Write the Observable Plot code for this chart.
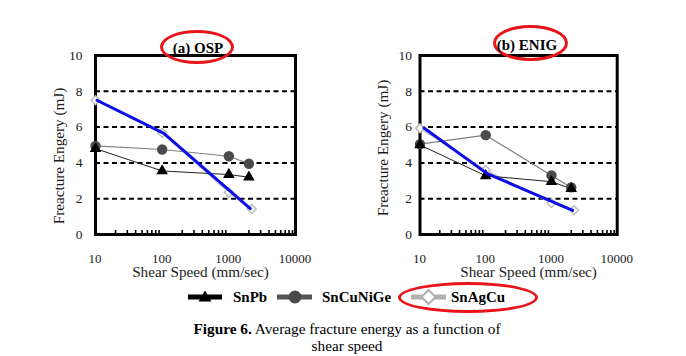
<!DOCTYPE html>
<html>
<head>
<meta charset="utf-8">
<script src="https://cdn.jsdelivr.net/npm/d3@7"></script>
<script src="https://cdn.jsdelivr.net/npm/@observablehq/plot@0.6"></script>
<style>
  html, body { margin: 0; padding: 0; background: #fff; }
  #wrap { position: relative; width: 686px; height: 356px; background: #fff; overflow: hidden;
          font-family: 'Liberation Serif', 'Times New Roman', serif; color: #000; }
  .abs { position: absolute; }
  .ell { position: absolute; box-sizing: border-box; border: 3px solid #e8141a; border-radius: 50%; }
  .ttl { position: absolute; font-weight: bold; font-size: 15px; white-space: nowrap; transform: translate(-50%, -50%); line-height: 1; }
  .leg { position: absolute; font-weight: bold; font-size: 15px; white-space: nowrap; line-height: 1; transform: translateY(-50%); }
  .cap { position: absolute; left: 97px; width: 500px; text-align: center; font-size: 15.3px; line-height: 17px; }
  .xt { position: absolute; font-size: 13px; line-height: 1; color: #1a1a1a; white-space: nowrap; transform: translateX(-50%); }
</style>
</head>
<body>
<div id="wrap">
  <div id="pa" class="abs" style="left:0;top:0"></div>
  <div id="pb" class="abs" style="left:324px;top:0"></div>
</div>
<script>
// ---- data ----
const speeds = [10, 100, 1000, 2000];
const speedsAgCu = [10, 100, 1000, 2200];
const ospSnPb = [4.8, 3.55, 3.35, 3.2];
const ospSnCuNiGe = [4.95, 4.75, 4.37, 3.95];
const ospSnAgCu = [7.5, 5.68, 2.35, 1.42];
const enigSnPb = [5.0, 3.28, 2.95, 2.56];
const enigSnCuNiGe = [5.05, 5.55, 3.3, 2.63];
const enigSnAgCu = [5.93, 3.6, 1.76, 1.35];
const ospBlueX = [10.5, 106, 2100];
const ospBlueY = [7.5, 5.65, 1.45];
const enigBlueX = [11.5, 105, 2100];
const enigBlueY = [5.95, 3.4, 1.35];
const xTicks = [10, 100, 1000, 10000];
const yTicks = [0, 2, 4, 6, 8, 10];
const gridLevels = [2, 4, 6, 8];
const minorTicks = [20, 30, 40, 50, 60, 70, 80, 90, 200, 300, 400, 500, 600, 700, 800, 900, 2000, 3000, 4000, 5000, 6000, 7000, 8000, 9000];
const panelTitles = ["(a) OSP", "(b) ENIG"];
const seriesNames = ["SnPb", "SnCuNiGe", "SnAgCu"];
const xTitle = "Shear Speed (mm/sec)";
const yTitle = "Freacture Engery (mJ)";
const captionBold = "Figure 6.";
const captionRest = " Average fracture energy as a function of";
const captionLine2 = "shear speed";

const rows = (xs, ys) => xs.map((x, i) => ({x, y: ys[i]}));

function panel(cfg) {
  const pb = rows(speeds, cfg.snpb), cu = rows(speeds, cfg.cu), ag = rows(speedsAgCu, cfg.ag), bl = rows(cfg.bx, cfg.by);
  return Plot.plot({
    width: 330, height: 285,
    marginLeft: cfg.ml, marginRight: cfg.mr, marginTop: 55, marginBottom: 51,
    style: {fontFamily: "'Liberation Serif', 'Times New Roman', serif", fontSize: "13px", color: "#1a1a1a", background: "transparent", overflow: "visible"},
    x: {type: "log", domain: [10, 10000]},
    y: {domain: [0, 10]},
    marks: [
      Plot.ruleY(gridLevels, {stroke: "#000", strokeWidth: 2, strokeDasharray: "5,3.5"}),
      Plot.axisY(yTicks, {tickSize: 0, tickPadding: cfg.yPad, label: null, fontSize: 13.5}),
      Plot.axisX(minorTicks, {tickSize: -4, fill: "none", label: null, strokeWidth: 1.6, stroke: "#000"}),
      Plot.frame({stroke: "#000", strokeWidth: 3}),
      Plot.text([xTitle], {frameAnchor: "bottom", lineAnchor: "middle", textAnchor: "middle", dy: 38, dx: cfg.xdx, fontSize: 15.2, fill: "#1a1a1a"}),
      Plot.text([yTitle], {frameAnchor: "left", lineAnchor: "middle", textAnchor: "middle", dx: -36.5, dy: cfg.ydy, rotate: -90, fontSize: 15.2, fill: "#1a1a1a"}),
      Plot.line(ag, {x: "x", y: "y", stroke: "#c4c4c4", strokeWidth: 1.5}),
      Plot.line(cu, {x: "x", y: "y", stroke: "#808080", strokeWidth: 1.2}),
      Plot.line(pb, {x: "x", y: "y", stroke: "#222", strokeWidth: 1}),
      Plot.dot(ag, {x: "x", y: "y", symbol: "diamond2", r: 4, fill: "#fff", stroke: "#bdbdbd", strokeWidth: 1.5}),
      Plot.dot(cu, {x: "x", y: "y", symbol: "circle", r: 5.2, fill: "#4a4a4a"}),
      Plot.dot(pb, {x: "x", y: "y", symbol: "triangle", r: 4.3, fill: "#000"}),
      Plot.line(bl, {x: "x", y: "y", stroke: "#0d0de8", strokeWidth: 3})
    ]
  });
}

const wrap = document.getElementById("wrap");
function add(html) { wrap.insertAdjacentHTML("beforeend", html); }

const svgA = panel({snpb: ospSnPb, cu: ospSnCuNiGe, ag: ospSnAgCu, bx: ospBlueX, by: ospBlueY, ml: 95, mr: 35, yPad: 13, xdx: 5, ydy: 11});
const svgB = panel({snpb: enigSnPb, cu: enigSnCuNiGe, ag: enigSnAgCu, bx: enigBlueX, by: enigBlueY, ml: 95.5, mr: 37.3, yPad: 8, xdx: 10, ydy: 3});
document.getElementById("pa").append(svgA);
document.getElementById("pb").append(svgB);

// x tick labels, positioned through each panel's own x scale
[[svgA, 0], [svgB, 324]].forEach(([svg, left]) => {
  const sx = svg.scale("x");
  xTicks.forEach(v => add(`<div class="xt" style="left:${left + sx.apply(v)}px;top:251.5px">${v}</div>`));
});

// panel titles with red ellipses
add(`<div class="ell" style="left:160px;top:30px;width:74px;height:34px"></div>`);
add(`<div class="ttl" style="left:198px;top:47.5px">${panelTitles[0]}</div>`);
add(`<div class="ell" style="left:493px;top:25px;width:75px;height:36px"></div>`);
add(`<div class="ttl" style="left:527px;top:44.5px">${panelTitles[1]}</div>`);

// legend
add(`<svg class="abs" style="left:180px;top:283px" width="280" height="28">
  <line x1="8" y1="14" x2="42" y2="14" stroke="#000" stroke-width="5"/>
  <path d="M25,7.5 L31.5,18.5 L18.5,18.5 Z" fill="#000"/>
  <line x1="97" y1="14" x2="132" y2="14" stroke="#555" stroke-width="5"/>
  <circle cx="115" cy="14" r="6.5" fill="#4a4a4a"/>
  <line x1="231" y1="14" x2="266" y2="14" stroke="#b0b0b0" stroke-width="5"/>
  <path d="M248.5,7 L255.5,14 L248.5,21 L241.5,14 Z" fill="#fff" stroke="#b0b0b0" stroke-width="2"/>
</svg>`);
add(`<div class="leg" style="left:233px;top:297px">${seriesNames[0]}</div>`);
add(`<div class="leg" style="left:322px;top:297px">${seriesNames[1]}</div>`);
add(`<div class="leg" style="left:451px;top:297px">${seriesNames[2]}</div>`);
add(`<div class="ell" style="left:398px;top:282px;width:140px;height:31px"></div>`);

// caption
add(`<div class="cap" style="top:320px"><b>${captionBold}</b>${captionRest}<br>${captionLine2}</div>`);
</script>
</body>
</html>
